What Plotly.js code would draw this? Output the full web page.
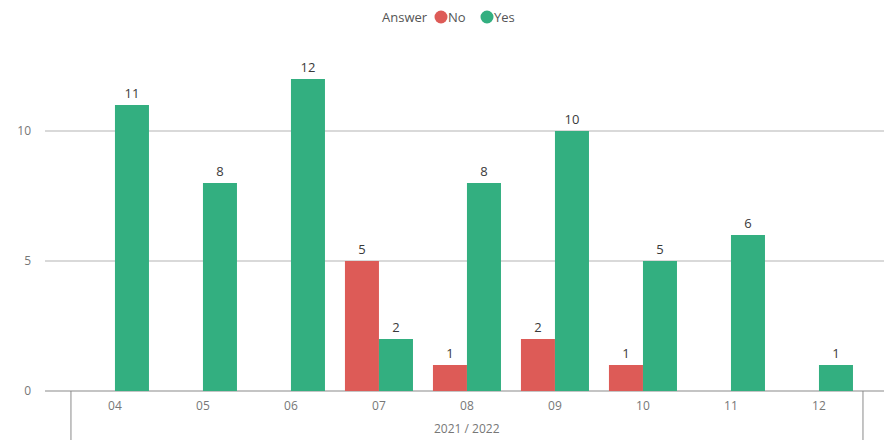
<!DOCTYPE html>
<html>
<head>
<meta charset="utf-8">
<script src="https://cdn.plot.ly/plotly-3.0.1.min.js"></script>
<style>html,body{margin:0;padding:0;background:#fff;}#chart{width:884px;height:440px;}</style>
</head>
<body>
<div id="chart"></div>
<script>
var months = ["04","05","06","07","08","09","10","11","12"];
var noValues = [null,null,null,5,1,2,1,null,null];
var yesValues = [11,8,12,2,8,10,5,6,1];
var seriesNames = ["No","Yes"];
var groupLabel = "2021 / 2022";
var legendTitle = "Answer";

var red = "#DD5B57";
var green = "#33AF80";
var font = "'Open Sans', 'Noto Sans', sans-serif";

function labels(arr){ return arr.map(function(v){ return v === null ? "" : String(v); }); }

var data = [
  {type:"bar", name:seriesNames[0], x:months, y:noValues, marker:{color:red}, text:labels(noValues),
   textposition:"outside", textfont:{color:"#3a3a3a", size:13, family:font}, cliponaxis:false,
   showlegend:false, hoverinfo:"x+y+name"},
  {type:"bar", name:seriesNames[1], x:months, y:yesValues, marker:{color:green}, text:labels(yesValues),
   textposition:"outside", textfont:{color:"#3a3a3a", size:13, family:font}, cliponaxis:false,
   showlegend:false, hoverinfo:"x+y+name"}
];

var legY = 1.0655;
function legendDot(px, color){
  var xp = (px - 45) / 839;
  return {type:"circle", xref:"paper", yref:"paper", xsizemode:"pixel", ysizemode:"pixel",
    xanchor:xp, yanchor:legY, x0:-6.5, x1:6.5, y0:-6.5, y1:6.5, fillcolor:color, line:{width:0}};
}
function legendLabel(px, text, anchor){
  return {xref:"paper", yref:"paper", x:(px - 45) / 839, y:legY, xanchor:anchor, yanchor:"middle",
    showarrow:false, text:text, borderpad:0, font:{size:13, color:"#555555", family:font}};
}

var layout = {
  width:884, height:440,
  margin:{l:45, r:0, t:40, b:49},
  paper_bgcolor:"#ffffff", plot_bgcolor:"#ffffff",
  font:{family:font, size:12, color:"#666666"},
  barmode:"group", bargap:0.227, bargroupgap:0,
  showlegend:false,
  xaxis:{type:"category", categoryorder:"array", categoryarray:months, range:[-0.795, 8.739],
    showgrid:false, zeroline:false, showline:false, ticks:"", tickfont:{size:12, color:"#777777"},
    ticklabelstandoff:6, fixedrange:true},
  yaxis:{range:[0,13.5], tickvals:[0,5,10], ticktext:["0","5","10"], showgrid:true, gridcolor:"#d9d9d9", gridwidth:1.3,
    zeroline:true, zerolinecolor:"#c4c4c4", zerolinewidth:1.6, showline:false, ticks:"",
    tickfont:{size:12, color:"#777777"}, ticklabelstandoff:13, fixedrange:true},
  shapes:[
    {type:"line", xref:"x", yref:"paper", x0:-0.5, x1:-0.5, y0:0, y1:-0.145, line:{color:"#8a8a8a", width:1}},
    {type:"line", xref:"x", yref:"paper", x0:8.5, x1:8.5, y0:0, y1:-0.145, line:{color:"#8a8a8a", width:1}},
    legendDot(441, red),
    legendDot(487, green)
  ],
  annotations:[
    {xref:"x", yref:"paper", x:4, y:0, yshift:-37, yanchor:"middle", showarrow:false, text:groupLabel,
     font:{size:12, color:"#777777", family:font}},
    legendLabel(429, legendTitle, "right"),
    legendLabel(447, seriesNames[0], "left"),
    legendLabel(493, seriesNames[1], "left")
  ]
};

Plotly.newPlot("chart", data, layout, {displayModeBar:false, staticPlot:true});
</script>
</body>
</html>
